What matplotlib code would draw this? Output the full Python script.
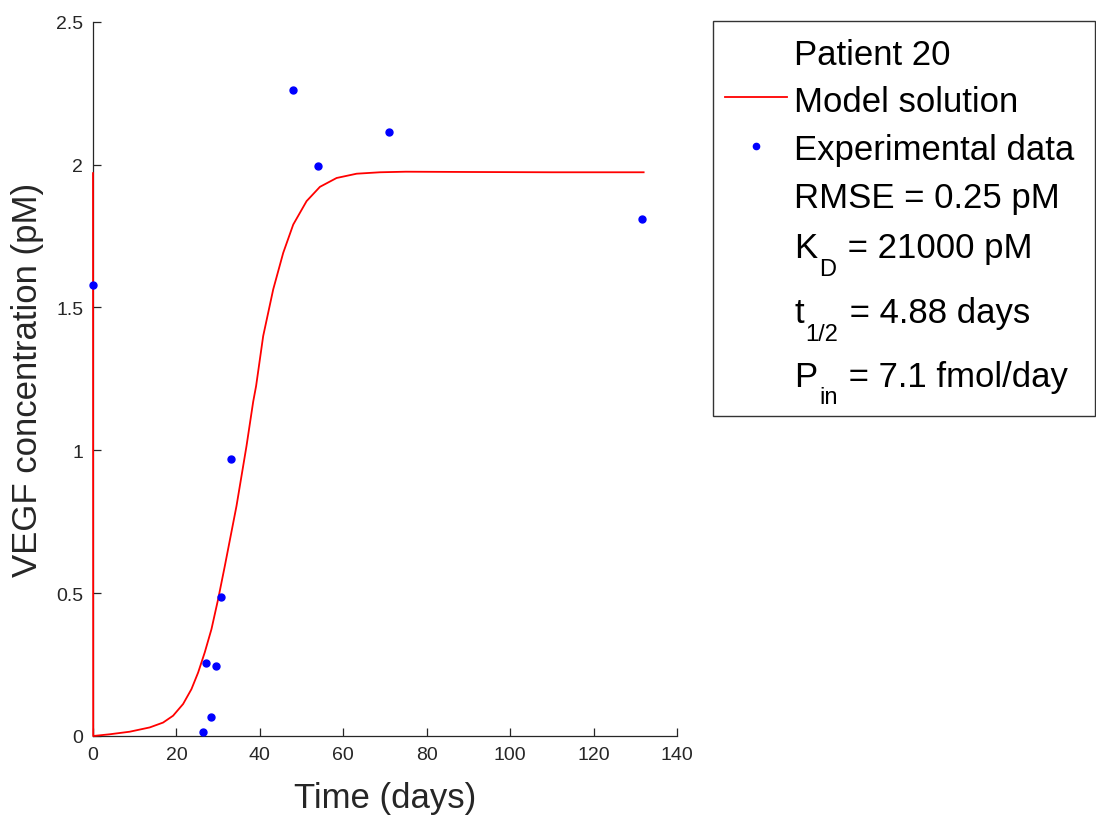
import matplotlib
matplotlib.use("Agg")
import matplotlib.pyplot as plt
from matplotlib.lines import Line2D
from matplotlib.patches import Rectangle

plt.rcParams['font.family'] = ['Liberation Sans', 'DejaVu Sans']

# Model solution
model_t = [0, 0.05, 4.0, 8.8, 13.6, 16.8, 19.2, 21.6, 23.6, 25.2, 26.8, 28.4,
           30.0, 31.6, 34.4, 36.8, 38.4, 39.1, 40.8, 43.2, 45.6, 48.0, 51.2,
           54.4, 58.4, 63.2, 68.8, 75, 90, 110, 132]
model_y = [1.97, 0.0, 0.006, 0.015, 0.030, 0.047, 0.071, 0.112, 0.164, 0.222,
           0.293, 0.374, 0.479, 0.595, 0.805, 1.015, 1.17, 1.225, 1.400, 1.563,
           1.691, 1.790, 1.872, 1.922, 1.953, 1.968, 1.973, 1.975, 1.974,
           1.973, 1.973]

# Experimental data
data_t = [0, 26.4, 27.0, 28.4, 29.6, 30.6, 33.1, 47.9, 53.9, 71.0, 131.6]
data_y = [1.58, 0.014, 0.256, 0.065, 0.246, 0.487, 0.969, 2.26, 1.996, 2.115, 1.81]

x_ticks = [0, 20, 40, 60, 80, 100, 120, 140]
y_ticks = [0, 0.5, 1, 1.5, 2, 2.5]
y_tick_labels = ['0', '0.5', '1', '1.5', '2', '2.5']

# Legend rows: (main text, subscript, rest)
legend_rows = [('Patient 20', '', ''),
               ('Model solution', '', ''),
               ('Experimental data', '', ''),
               ('RMSE = 0.25 pM', '', ''),
               ('K', 'D', ' = 21000 pM'),
               ('t', '1/2', ' = 4.88 days'),
               ('P', 'in', ' = 7.1 fmol/day')]

W, H = 1096, 820
axcol = '#262626'
fig = plt.figure(figsize=(W / 100, H / 100), dpi=100)
ax = fig.add_axes([93 / W, 1 - 737 / H, (677 - 93) / W, (737 - 22.7) / H])

line, = ax.plot(model_t, model_y, color='red', lw=1.3, zorder=3, clip_on=False)
pts, = ax.plot(data_t, data_y, ls='none', marker='o', ms=5, color='blue',
               mec='blue', zorder=4, clip_on=False)

ax.set_xlim(0, 140)
ax.set_ylim(0, 2.5)
ax.set_xticks(x_ticks)
ax.set_yticks(y_ticks)
ax.set_yticklabels(y_tick_labels)
for s in ['top', 'right']:
    ax.spines[s].set_visible(False)
for s in ['left', 'bottom']:
    ax.spines[s].set_color(axcol)
    ax.spines[s].set_linewidth(0.9)
ax.tick_params(direction='in', length=6, width=0.9, color=axcol,
               labelcolor=axcol, labelsize=14, pad=7)
ax.set_xlabel('Time (days)', fontsize=25, color=axcol, labelpad=13)
ax.set_ylabel('VEGF concentration (pM)', fontsize=25, color=axcol, labelpad=9)


# ---- legend box drawn in pixel coordinates ----
def fx(x):
    return x / W


def fy(y):
    return 1 - y / H


fig.add_artist(Rectangle((fx(713.3), fy(416.7)), fx(1095) - fx(713.3),
                         fy(22) - fy(416.7), transform=fig.transFigure,
                         fill=True, facecolor='white', edgecolor='#333333',
                         lw=1.0, zorder=5))
fig.add_artist(Line2D([fx(725), fx(786.7)], [fy(98.3), fy(98.3)],
                      transform=fig.transFigure, color='red', lw=1.3, zorder=6))
fig.add_artist(Line2D([fx(756)], [fy(146.7)], transform=fig.transFigure,
                      ls='none', marker='o', ms=4.5, color='blue', zorder=6))

baselines = [65, 111.7, 160, 208.3, 258.3, 323.3, 386.7]
sub_drop = 17.5
fig.canvas.draw()
renderer = fig.canvas.get_renderer()
x0 = 794.3
for (main, sub, rest), yb in zip(legend_rows, baselines):
    t = fig.text(fx(x0), fy(yb), main, fontsize=25, color='black',
                 va='baseline', ha='left', zorder=7)
    if sub:
        bb = t.get_window_extent(renderer)
        xs = x0 + bb.width + 1.5
        ts = fig.text(fx(xs), fy(yb + sub_drop), sub, fontsize=17, color='black',
                      va='baseline', ha='left', zorder=7)
        bbs = ts.get_window_extent(renderer)
        fig.text(fx(xs + bbs.width + 2), fy(yb), rest, fontsize=25, color='black',
                 va='baseline', ha='left', zorder=7)

fig.savefig('out.png', dpi=100, facecolor='white')
